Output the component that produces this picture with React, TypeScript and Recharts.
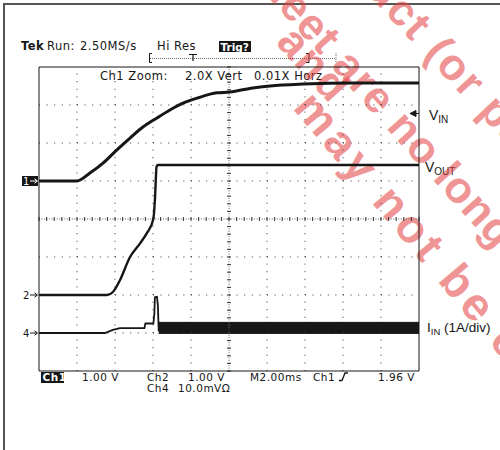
import React from "react";
import { ComposedChart, Line, Area, XAxis, YAxis, ReferenceLine } from "recharts";

// Horizontal: time in ms (M 2.00 ms/div, 10 divisions). Vertical: screen divisions (8 div, 0 = centre).
const TIME_RANGE: [number, number] = [0, 20];
const DIV_RANGE: [number, number] = [-4, 4];
const MAJOR_T = [0, 2, 4, 6, 8, 10, 12, 14, 16, 18, 20];
const MAJOR_DIV = [-4, -3, -2, -1, 0, 1, 2, 3, 4];
const GRID_T = [2, 4, 6, 8, 12, 14, 16, 18];
const GRID_DIV = [-3, -2, -1, 1, 2, 3];
const CENTER_T = 10;
const CENTER_DIV = 0;
const MINOR_PER_DIV = 5;

// Ch1: V_IN
const VIN_T = [0, 2.0, 2.68, 3.37, 4.1, 4.79, 5.47, 6.21, 6.89, 7.58, 8.32, 9.37, 10.05, 11.26, 12.16, 13.9, 16.5, 20];
const VIN_V = [1.0, 1.0, 1.21, 1.47, 1.82, 2.13, 2.42, 2.66, 2.87, 3.05, 3.18, 3.32, 3.34, 3.45, 3.5, 3.55, 3.58, 3.58];
// Ch2: V_OUT
const VOUT_T = [0, 3.58, 3.89, 4.26, 4.79, 5.32, 5.67, 6.02, 6.1, 6.19, 6.26, 20];
const VOUT_V = [-2.0, -2.0, -1.92, -1.61, -1.0, -0.64, -0.38, 0.0, 0.5, 1.38, 1.42, 1.42];
// Ch4: I_IN (start-up part)
const IIN_T = [0, 3.47, 3.89, 4.26, 5.55, 5.6, 6.02, 6.07, 6.1, 6.21, 6.26, 6.3];
const IIN_V = [-3.0, -3.0, -2.92, -2.87, -2.87, -2.75, -2.75, -2.5, -2.06, -2.05, -2.3, -2.95];
// Ch4: I_IN switching ripple band (low / high envelope)
const IIN_BAND_T = [6.3, 20];
const IIN_BAND_LO = [-3.01, -3.01];
const IIN_BAND_HI = [-2.72, -2.72];

// Channel ground reference markers
const MARKER_LABELS = ["1", "2", "4"];
const MARKER_LEVELS = [1.0, -2.0, -3.0];
const MARKER_INVERTED = [true, false, false];

const zip = (t: number[], v: number[]) => t.map((x, i) => ({ t: x, v: v[i] }));
const band = (t: number[], lo: number[], hi: number[]) => t.map((x, i) => ({ t: x, band: [lo[i], hi[i]] }));
const minorTicks = (majors: number[]) => {
  const out: number[] = [];
  for (let i = 0; i < majors.length - 1; i++) {
    const a = majors[i];
    const b = majors[i + 1];
    for (let k = 0; k < MINOR_PER_DIV; k++) out.push(+(a + ((b - a) * k) / MINOR_PER_DIV).toFixed(4));
  }
  out.push(majors[majors.length - 1]);
  return out;
};

const vinData = zip(VIN_T, VIN_V);
const voutData = zip(VOUT_T, VOUT_V);
const iinData = zip(IIN_T, IIN_V);
const iinBand = band(IIN_BAND_T, IIN_BAND_LO, IIN_BAND_HI);
const MINOR_T = minorTicks(MAJOR_T);
const MINOR_DIV = minorTicks(MAJOR_DIV);

const SCOPE_FONT = "DejaVu Sans";
const LABEL_FONT = "Liberation Sans";
const INK = "#161616";

const crossShape = (horizontal: boolean, segments: number) => (p: any) => {
  const { x1, y1, x2, y2 } = p;
  const marks: React.ReactNode[] = [];
  for (let i = 0; i <= segments; i++) {
    const x = x1 + ((x2 - x1) * i) / segments;
    const y = y1 + ((y2 - y1) * i) / segments;
    marks.push(
      horizontal ? (
        <line key={i} x1={x} x2={x} y1={y - 2} y2={y + 2} stroke="#333" strokeWidth={1} />
      ) : (
        <line key={i} x1={x - 2} x2={x + 2} y1={y} y2={y} stroke="#333" strokeWidth={1} />
      )
    );
  }
  return (
    <g>
      <line x1={x1} y1={y1} x2={x2} y2={y2} stroke="#666" strokeWidth={1} strokeDasharray="1 1.53" />
      {marks}
    </g>
  );
};

const markerShape = (label: string, inverted: boolean) => (p: any) => {
  const x0 = Math.min(p.x1, p.x2);
  const y = p.y1;
  const col = inverted ? "#fff" : INK;
  return (
    <g>
      {inverted && <rect x={x0 - 17} y={y - 5} width={16} height={10} fill={INK} />}
      <text x={x0 - 16} y={y + 3.6} fontSize={10} fontFamily={SCOPE_FONT} fill={col}>
        {label}
      </text>
      <line x1={x0 - 9} x2={x0 - 2} y1={y} y2={y} stroke={col} strokeWidth={1} />
      <path d={`M${x0 - 4.5},${y - 2.2} L${x0 - 1.5},${y} L${x0 - 4.5},${y + 2.2}`} stroke={col} fill="none" strokeWidth={1} />
    </g>
  );
};

const T = (props: any) => (
  <text fontFamily={SCOPE_FONT} fontSize={11.5} letterSpacing={0.5} fill={INK} {...props} />
);
const B = (props: any) => (
  <text fontFamily={SCOPE_FONT} fontSize={10.5} letterSpacing={0.5} fill={INK} {...props} />
);

const WM = [
  { x: 384, y: 12, a: 47, fs: 44, ls: 2, pre: "This is an obsolete produ", text: "ct (or part) that is no longer made" },
  { x: 277, y: 7, a: 48, fs: 44, ls: 1, pre: "Information in this data sh", text: "eet are no longer supported" },
  { x: 275, y: 43, a: 48, fs: 44, ls: 2, pre: "", text: "and" },
  { x: 292, y: 108, a: 50, fs: 46, ls: 4.5, pre: "", text: "may not be current" },
];

export default function App() {
  return (
    <div style={{ position: "absolute", left: 0, top: 0, width: 500, height: 450, background: "#fff" }}>
      <ComposedChart width={500} height={450} margin={{ top: 67, right: 81, bottom: 79, left: 39 }}>
        <XAxis
          xAxisId={0}
          dataKey="t"
          type="number"
          domain={TIME_RANGE}
          allowDataOverflow
          ticks={MINOR_T}
          interval={0}
          orientation="bottom"
          mirror
          tick={false}
          tickSize={3}
          axisLine={{ stroke: INK, strokeWidth: 1 }}
          tickLine={{ stroke: INK, strokeWidth: 1 }}
        />
        <XAxis
          xAxisId="top"
          dataKey="t"
          type="number"
          domain={TIME_RANGE}
          allowDataOverflow
          ticks={MINOR_T}
          interval={0}
          orientation="top"
          mirror
          tick={false}
          tickSize={3}
          axisLine={{ stroke: INK, strokeWidth: 1 }}
          tickLine={{ stroke: INK, strokeWidth: 1 }}
        />
        <YAxis
          yAxisId={0}
          type="number"
          domain={DIV_RANGE}
          allowDataOverflow
          ticks={MINOR_DIV}
          interval={0}
          orientation="left"
          mirror
          tick={false}
          tickSize={3}
          axisLine={{ stroke: INK, strokeWidth: 1 }}
          tickLine={{ stroke: INK, strokeWidth: 1 }}
        />
        <YAxis
          yAxisId="right"
          type="number"
          domain={DIV_RANGE}
          allowDataOverflow
          ticks={MINOR_DIV}
          interval={0}
          orientation="right"
          mirror
          tick={false}
          tickSize={3}
          axisLine={{ stroke: INK, strokeWidth: 1 }}
          tickLine={{ stroke: INK, strokeWidth: 1 }}
        />

        {GRID_T.map((t) => (
          <ReferenceLine key={`gx${t}`} x={t} stroke="#333" strokeWidth={1} strokeDasharray="1 6.6" />
        ))}
        {GRID_DIV.map((d) => (
          <ReferenceLine key={`gy${d}`} y={d} stroke="#333" strokeWidth={1} strokeDasharray="1 6.6" />
        ))}
        <ReferenceLine x={CENTER_T} shape={crossShape(false, (MAJOR_DIV.length - 1) * MINOR_PER_DIV)} />
        <ReferenceLine y={CENTER_DIV} shape={crossShape(true, (MAJOR_T.length - 1) * MINOR_PER_DIV)} />
        {MARKER_LABELS.map((l, i) => (
          <ReferenceLine key={`m${l}`} y={MARKER_LEVELS[i]} shape={markerShape(l, MARKER_INVERTED[i])} />
        ))}

        <Area
          data={iinBand}
          dataKey="band"
          type="linear"
          stroke={INK}
          strokeWidth={1}
          fill={INK}
          fillOpacity={1}
          isAnimationActive={false}
          dot={false}
          activeDot={false}
        />
        <Line data={iinData} dataKey="v" type="linear" stroke={INK} strokeWidth={1.8} dot={false} activeDot={false} isAnimationActive={false} />
        <Line data={voutData} dataKey="v" type="monotone" stroke={INK} strokeWidth={2.4} dot={false} activeDot={false} isAnimationActive={false} />
        <Line data={vinData} dataKey="v" type="monotone" stroke={INK} strokeWidth={3} dot={false} activeDot={false} isAnimationActive={false} />

        {/* page frame */}
        <path d="M4,450 V4 H500" stroke="#555" strokeWidth={2} fill="none" />

        {/* header */}
        <T x={21} y={50} fontWeight="bold">Tek</T>
        <T x={47} y={50}>Run:</T>
        <T x={80} y={50}>2.50MS/s</T>
        <T x={157} y={50}>Hi Res</T>
        <rect x={219} y={41} width={32} height={11} fill={INK} />
        <text x={220.5} y={50.5} fontFamily={SCOPE_FONT} fontSize={10.5} fontWeight="bold" fill="#fff">Trig?</text>
        <line x1={150} x2={336} y1={58.5} y2={58.5} stroke="#666" strokeWidth={1} strokeDasharray="1 1" />
        <path d="M152,53.5 H149.5 V62.5 H152" stroke={INK} fill="none" strokeWidth={1} />
        <path d="M189,54.5 H197 M193,54.5 V61" stroke={INK} fill="none" strokeWidth={1.2} />
        <path d="M306,53.5 H309 V62.5 H306" stroke={INK} fill="none" strokeWidth={1} />
        <line x1={336} x2={336} y1={53} y2={63} stroke="#666" strokeWidth={1} strokeDasharray="1 1" />
        <T x={100} y={80}>Ch1 Zoom:</T>
        <T x={185} y={80}>2.0X Vert</T>
        <T x={254} y={80}>0.01X Horz</T>

        {/* footer */}
        <rect x={41} y={372} width={23} height={11} fill={INK} />
        <B x={42.5} y={381} fill="#fff" fontWeight="bold">Ch1</B>
        <B x={82} y={381}>1.00 V</B>
        <B x={147} y={381}>Ch2</B>
        <B x={188} y={381}>1.00 V</B>
        <B x={250} y={381}>M2.00ms</B>
        <B x={313} y={381}>Ch1</B>
        <path d="M339,380.5 H342 L345,373 H348" stroke={INK} fill="none" strokeWidth={1.3} />
        <B x={378} y={381}>1.96 V</B>
        <B x={147} y={392}>Ch4</B>
        <B x={178} y={392}>10.0mVΩ</B>

        {/* right labels */}
        <path d="M410,113.5 L416,110.5 L416,116.5 Z M416,113.5 H419" fill={INK} stroke={INK} strokeWidth={1} />
        <text x={429} y={120} fontFamily={LABEL_FONT} fontSize={14} fill={INK}>
          V<tspan fontSize={10} dy={3}>IN</tspan>
        </text>
        <text x={425} y={172} fontFamily={LABEL_FONT} fontSize={14} fill={INK}>
          V<tspan fontSize={10} dy={3}>OUT</tspan>
        </text>
        <text x={427} y={332} fontFamily={LABEL_FONT} fontSize={13.5} fill={INK}>
          I<tspan fontSize={9.5} dy={3}>IN</tspan>
          <tspan dy={-3}> (1A/div)</tspan>
        </text>

        {/* watermark */}
        {WM.map((w, i) => (
          <g key={`wm${i}`} transform={`translate(${w.x},${w.y}) rotate(${w.a})`} opacity={0.55}>
            {w.pre && (
              <text x={0} y={0} textAnchor="end" fontFamily={LABEL_FONT} fontWeight="bold" fontSize={w.fs} letterSpacing={w.ls} fill="rgb(228,64,64)">
                {w.pre}
              </text>
            )}
            <text x={0} y={0} fontFamily={LABEL_FONT} fontWeight="bold" fontSize={w.fs} letterSpacing={w.ls} fill="rgb(228,64,64)">
              {w.text}
            </text>
          </g>
        ))}
      </ComposedChart>
    </div>
  );
}
